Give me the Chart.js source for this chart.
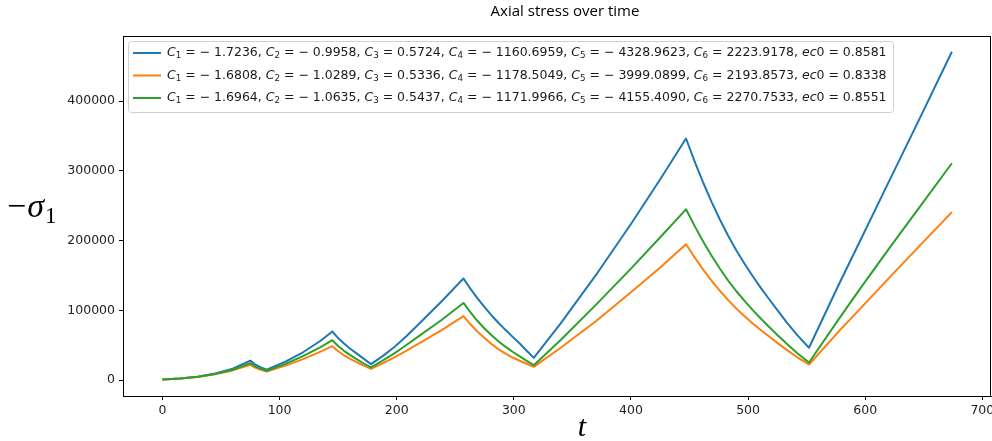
<!DOCTYPE html>
<html>
<head>
<meta charset="utf-8">
<script src="https://cdn.jsdelivr.net/npm/chart.js@4/dist/chart.umd.min.js"></script>
<style>
  html, body { margin: 0; padding: 0; background: #fff; }
  #wrap { width: 992px; height: 441px; position: relative; }
</style>
</head>
<body>
<div id="wrap"><canvas id="c" width="992" height="441"></canvas></div>
<script>
// Time steps shared by all three fitted curves
const timeSteps = [0, 15, 30, 45, 60, 75, 79, 84, 89, 105, 120, 135, 145, 150, 155, 160, 166, 172, 178, 188, 198, 208, 218, 238, 257, 263, 269, 275, 281, 287, 293, 299, 305, 311, 317, 340, 370, 400, 425, 447, 455, 462, 469, 476, 483, 490, 497, 504, 511, 518, 525, 533, 542, 552, 578, 596, 620, 645, 674];

// -sigma_1 for each parameter set
const sigmaSetA = [1000, 2500, 5000, 9500, 16500, 28000, 22800, 18400, 15000, 26500, 40000, 56500, 69800, 60400, 52500, 45500, 38000, 30500, 23000, 34500, 47500, 62500, 79000, 112500, 145700, 130900, 117300, 104800, 92800, 82000, 71800, 62100, 52500, 42200, 32000, 81500, 150500, 224000, 288000, 346500, 311000, 282000, 255000, 230000, 207000, 186000, 167000, 149000, 132000, 116000, 100500, 83000, 64500, 46500, 139000, 201000, 284000, 370000, 471000];
const sigmaSetB = [1000, 2300, 4600, 8500, 14000, 22000, 18000, 14800, 12500, 20800, 30100, 40900, 48700, 41500, 35700, 30800, 25600, 20750, 16200, 24200, 32800, 42000, 51800, 71500, 91700, 80100, 69600, 60500, 51800, 44100, 38000, 32500, 27800, 23500, 19100, 46500, 84500, 126000, 161500, 194800, 174500, 157800, 142200, 128000, 114700, 102600, 91800, 81400, 71600, 62500, 53500, 43500, 32800, 22500, 71000, 103000, 146000, 190000, 241000];
const sigmaSetC = [1000, 2400, 4800, 9000, 15000, 24500, 20000, 16300, 13500, 23400, 34500, 47400, 57300, 49100, 42100, 36200, 29900, 23900, 18200, 28000, 38500, 50000, 62000, 86000, 110700, 97300, 84800, 74100, 64300, 55400, 47800, 40700, 34000, 27700, 21500, 57500, 108000, 160000, 205000, 245000, 219100, 197800, 178000, 159800, 142800, 127500, 113600, 100400, 88000, 76300, 64800, 52100, 38500, 25300, 89000, 132000, 188000, 245000, 311000];

// Fitted model constants, one entry per parameter set (A, B, C)
const C1 = [-1.7236, -1.6808, -1.6964];
const C2 = [-0.9958, -1.0289, -1.0635];
const C3 = [0.5724, 0.5336, 0.5437];
const C4 = [-1160.6959, -1178.5049, -1171.9966];
const C5 = [-4328.9623, -3999.0899, -4155.4090];
const C6 = [2223.9178, 2193.8573, 2270.7533];
const ec0 = [0.8581, 0.8338, 0.8551];

const xTicks = [0, 100, 200, 300, 400, 500, 600, 700];
const yTicks = [0, 100000, 200000, 300000, 400000];

const titleText = 'Axial stress over time';
const colors = ['#1f77b4', '#ff7f0e', '#2ca02c'];

function toPoints(vals) { return timeSteps.map((t, i) => ({ x: t, y: vals[i] })); }

function fmt(v) { return (v < 0 ? '\u2212 ' : '') + Math.abs(v).toFixed(4); }

// Rich (italic / subscript) pieces of a legend entry
function legendPieces(i) {
  const cs = [C1[i], C2[i], C3[i], C4[i], C5[i], C6[i]];
  const out = [];
  cs.forEach((v, k) => {
    out.push({ t: 'C', it: true }, { t: String(k + 1), sub: true }, { t: ' = ' + fmt(v) + ', ' });
  });
  out.push({ t: 'ec', it: true }, { t: '0 = ' + fmt(ec0[i]) });
  return out;
}
function labelString(i) {
  return legendPieces(i).map(p => p.t).join('');
}

function drawPieces(ctx, pieces, x, y, size, family) {
  let cx = x;
  pieces.forEach(p => {
    const s = p.sub ? size * 0.7 : size;
    ctx.font = (p.it ? 'italic ' : '') + s + 'px ' + family;
    ctx.fillText(p.t, cx, y + (p.sub ? size * 0.22 : 0));
    cx += ctx.measureText(p.t).width;
  });
  return cx - x;
}
function measurePieces(ctx, pieces, size, family) {
  let w = 0;
  pieces.forEach(p => {
    const s = p.sub ? size * 0.7 : size;
    ctx.font = (p.it ? 'italic ' : '') + s + 'px ' + family;
    w += ctx.measureText(p.t).width;
  });
  return w;
}

const decorations = {
  id: 'decorations',
  afterDraw(chart) {
    const ctx = chart.ctx;
    const a = chart.chartArea;
    ctx.save();

    // frame round the plot area
    ctx.strokeStyle = '#000';
    ctx.lineWidth = 1;
    ctx.strokeRect(Math.round(a.left) + 0.5, Math.round(a.top) + 0.5, Math.round(a.right - a.left) - 1, Math.round(a.bottom - a.top));

    // title
    ctx.fillStyle = '#000';
    ctx.font = '15px "Open Sans"';
    ctx.textAlign = 'center';
    ctx.textBaseline = 'middle';
    ctx.fillText(titleText, 565, 12);

    // axis labels
    ctx.textAlign = 'left';
    ctx.textBaseline = 'alphabetic';
    ctx.font = 'italic 30px "Liberation Serif"';
    const tw = ctx.measureText('t').width;
    ctx.fillText('t', 582 - tw / 2, 436);

    let lx = 7, ly = 217;
    ctx.font = '34px "Liberation Serif"';
    ctx.fillText('\u2212', lx, ly);
    lx += ctx.measureText('\u2212').width + 1;
    ctx.font = 'italic 34px "Liberation Serif"';
    ctx.fillText('\u03c3', lx, ly);
    lx += ctx.measureText('\u03c3').width + 1;
    ctx.font = '23px "Liberation Serif"';
    ctx.fillText('1', lx, ly + 6);

    // legend
    const fam = '"DejaVu Sans"';
    const boxL = 128, boxT = 41, boxR = 893, boxB = 112;
    const textX = 167, textR = 887;
    let size = 13;
    const natural = measurePieces(ctx, legendPieces(0), size, fam);
    size = size * (textR - textX) / natural;
    ctx.fillStyle = 'rgba(255,255,255,0.85)';
    ctx.strokeStyle = '#d0d0d0';
    ctx.lineWidth = 1;
    ctx.beginPath();
    ctx.roundRect(boxL + 0.5, boxT + 0.5, boxR - boxL, boxB - boxT, 3);
    ctx.fill();
    ctx.stroke();
    const rows = [53, 75.5, 98];
    rows.forEach((ry, i) => {
      ctx.strokeStyle = colors[i];
      ctx.lineWidth = 2;
      ctx.beginPath();
      ctx.moveTo(133, ry);
      ctx.lineTo(161, ry);
      ctx.stroke();
      ctx.fillStyle = '#1a1a1a';
      ctx.textBaseline = 'middle';
      drawPieces(ctx, legendPieces(i), textX, ry, size, fam);
    });
    ctx.restore();
  }
};

const tickFont = { family: '"DejaVu Sans"', size: 12.5 };

new Chart(document.getElementById('c'), {
  type: 'line',
  data: {
    datasets: [
      { label: labelString(0), data: toPoints(sigmaSetA), borderColor: colors[0], order: 3 },
      { label: labelString(1), data: toPoints(sigmaSetB), borderColor: colors[1], order: 2 },
      { label: labelString(2), data: toPoints(sigmaSetC), borderColor: colors[2], order: 1 }
    ]
  },
  options: {
    responsive: false,
    animation: false,
    devicePixelRatio: 1,
    layout: { autoPadding: false, padding: { top: 36, right: 1, left: 0, bottom: 0 } },
    elements: {
      line: { borderWidth: 2, tension: 0, fill: false, borderJoinStyle: 'round' },
      point: { radius: 0, hoverRadius: 0 }
    },
    plugins: { legend: { display: false }, tooltip: { enabled: false }, title: { display: false } },
    scales: {
      x: {
        type: 'linear',
        min: -33.7,
        max: 707.4,
        afterBuildTicks: s => { s.ticks = xTicks.map(v => ({ value: v })); },
        afterFit: s => { s.height = 45; s.paddingLeft = 0; s.paddingRight = 0; },
        grid: { drawOnChartArea: false, drawTicks: true, tickLength: 4, color: '#000' },
        border: { display: true, color: '#000' },
        ticks: { font: tickFont, color: '#222', padding: 3, maxRotation: 0, autoSkip: false, callback: v => String(v) }
      },
      y: {
        type: 'linear',
        min: -22700,
        max: 493500,
        afterBuildTicks: s => { s.ticks = yTicks.map(v => ({ value: v })); },
        afterFit: s => { s.width = 123; s.paddingTop = 0; s.paddingBottom = 0; },
        grid: { drawOnChartArea: false, drawTicks: true, tickLength: 4, color: '#000' },
        border: { display: true, color: '#000' },
        ticks: { font: tickFont, color: '#222', padding: 4, autoSkip: false, callback: v => String(v) }
      }
    }
  },
  plugins: [decorations]
});
</script>
</body>
</html>
